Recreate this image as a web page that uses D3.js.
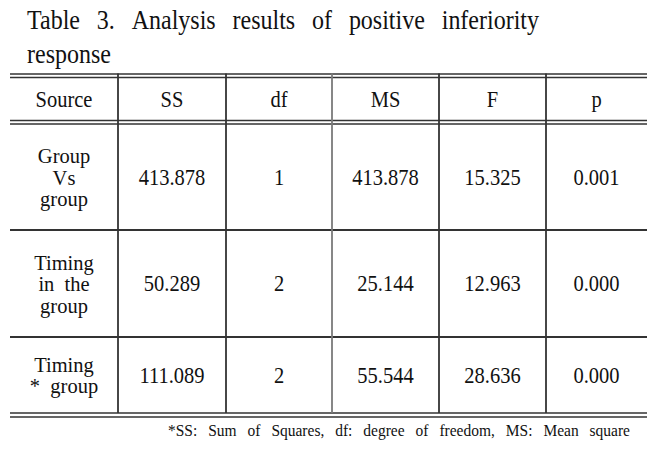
<!DOCTYPE html>
<html>
<head>
<meta charset="utf-8">
<script src="https://cdn.jsdelivr.net/npm/d3@7"></script>
<style>
  html, body { margin: 0; padding: 0; background: #fff; }
  svg { display: block; }
</style>
</head>
<body>
<svg id="chart" width="667" height="449" font-family="'Liberation Serif', 'DejaVu Serif', serif"></svg>
<script>
// ---------- DATA ----------
const titleLines = ["Table 3. Analysis results of positive inferiority", "response"];
const columns = ["Source", "SS", "df", "MS", "F", "p"];
const sources = [["Group", "Vs", "group"], ["Timing", "in  the", "group"], ["Timing", "*  group"]];
const ssValues = [413.878, 50.289, 111.089];
const dfValues = [1, 2, 2];
const msValues = [413.878, 25.144, 55.544];
const fValues = [15.325, 12.963, 28.636];
const pValues = [0.001, 0.000, 0.000];
const footnote = "*SS: Sum of Squares, df: degree of freedom, MS: Mean square";

// ---------- LAYOUT ----------
const FONT = "'Liberation Serif', 'DejaVu Serif', serif";
const svg = d3.select("#chart");
const colWeights = [108, 108, 106, 107, 107, 101];
const tableLeft = 10, tableRight = 647;
const cum = [0];
colWeights.forEach(w => cum.push(cum[cum.length - 1] + w));
const xEdge = d3.scaleLinear().domain([0, cum[cum.length - 1]]).range([tableLeft, tableRight]);
const colEdges = cum.map(c => xEdge(c));
const colCenter = i => (colEdges[i] + colEdges[i + 1]) / 2;

const rowHeights = [43, 106, 107, 76];
const tableTop = 77.5;
const headerGap = 3.5;
const rowTops = [], rowBottoms = [];
let yy = tableTop;
rowHeights.forEach((h, i) => {
  rowTops.push(yy);
  rowBottoms.push(yy + h);
  yy += h + (i === 0 ? headerGap : 0);
});

const lineColor = "#333";
const fmt3 = d3.format(".3f");
const SY = 1.14; // vertical stretch to mimic the tall narrow typeface

function put(parent, str, x, y, size, anchor, sy) {
  return parent.append("text")
    .attr("font-family", FONT).attr("fill", "#111")
    .attr("font-size", size)
    .attr("text-anchor", anchor || "start")
    .attr("transform", `translate(${x},${y}) scale(1,${sy || SY})`)
    .style("white-space", "pre")
    .text(str);
}

function justified(words, x0, x1, y, size, sy) {
  const g = svg.append("g");
  const nodes = words.map(w => put(g, w, 0, y, size, "start", sy));
  const widths = nodes.map(n => n.node().getComputedTextLength());
  const total = d3.sum(widths);
  const gap = words.length > 1 ? (x1 - x0 - total) / (words.length - 1) : 0;
  let x = x0;
  nodes.forEach((n, i) => {
    n.attr("transform", `translate(${x},${y}) scale(1,${sy || SY})`);
    x += widths[i] + gap;
  });
}

// ---------- TITLE ----------
justified(titleLines[0].split(" "), 27, 539, 28.5, 24, 1.16);
put(svg, titleLines[1], 27, 63, 24, "start", 1.16);

// ---------- RULES ----------
const hline = (y, w) => svg.append("line")
  .attr("x1", tableLeft).attr("x2", tableRight).attr("y1", y).attr("y2", y)
  .attr("stroke", lineColor).attr("stroke-width", w);

hline(74, 1.4); hline(77.5, 1.4);
hline(rowBottoms[0], 1.4); hline(rowTops[1], 1.4);
hline(rowBottoms[1], 2); hline(rowBottoms[2], 2);
hline(rowBottoms[3], 1.4); hline(rowBottoms[3] + 4, 1.4);

colEdges.slice(1, -1).forEach((x, i) => {
  svg.append("line")
    .attr("x1", x).attr("x2", x).attr("y1", 73.5).attr("y2", rowBottoms[3])
    .attr("stroke", i === 2 ? "#7a7a7a" : lineColor).attr("stroke-width", 1.8);
});

// ---------- HEADER ----------
const headerCenter = (rowTops[0] + rowBottoms[0]) / 2;
columns.forEach((d, i) => put(svg, d, colCenter(i), headerCenter + 8, 20.5, "middle"));

// ---------- BODY ----------
const lineH = 21.5;
const LABEL_SY = 1.03;
const body = sources.map((s, i) => ({
  label: s,
  vals: [fmt3(ssValues[i]), String(dfValues[i]), fmt3(msValues[i]), fmt3(fValues[i]), fmt3(pValues[i])]
}));

body.forEach((row, r) => {
  const cy = (rowTops[r + 1] + rowBottoms[r + 1]) / 2;
  const n = row.label.length;
  row.label.forEach((ln, k) =>
    put(svg, ln, colCenter(0), cy + 7.5 + (k - (n - 1) / 2) * lineH, 20.5, "middle", LABEL_SY));
  row.vals.forEach((v, c) => put(svg, v, colCenter(c + 1), cy + 7.5, 20.5, "middle"));
});

// ---------- FOOTNOTE ----------
justified(footnote.split(" "), 168, 630, 436, 15.5, 1.12);
</script>
</body>
</html>
